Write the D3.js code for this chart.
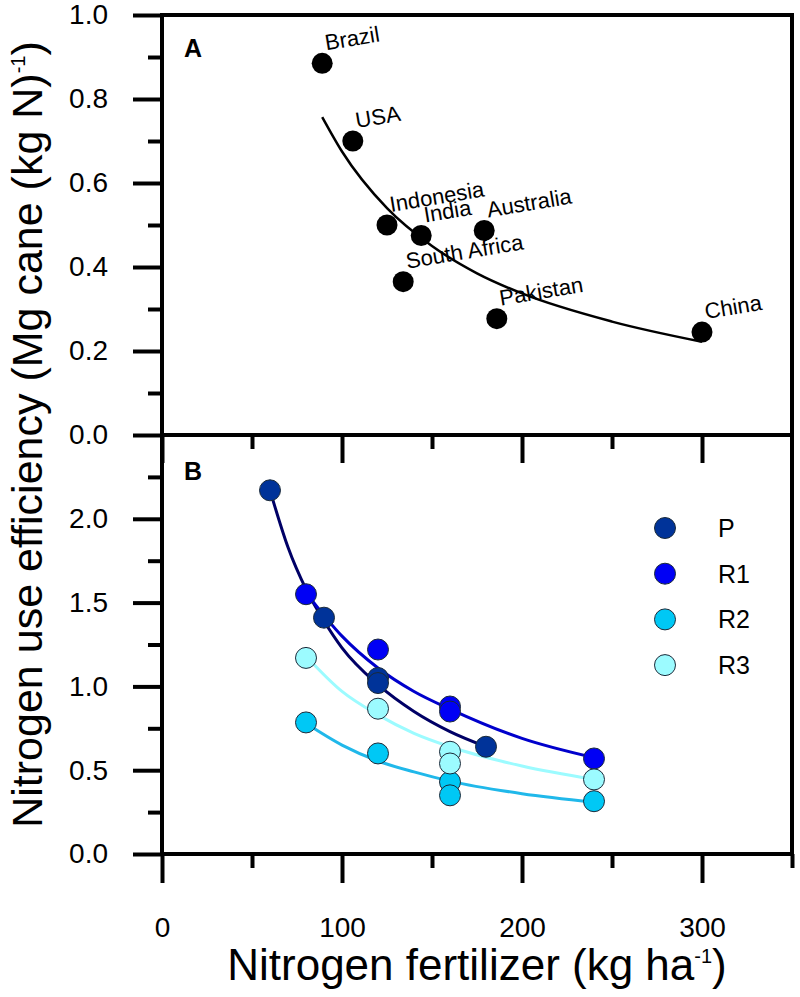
<!DOCTYPE html>
<html><head><meta charset="utf-8">
<script src="https://cdn.jsdelivr.net/npm/d3@7"></script>
<style>body{margin:0;background:#fff} text{font-family:Arial,"Liberation Sans",sans-serif;fill:#000}</style>
</head><body><svg id="c" width="800" height="997"></svg>
<script>
// ---- Panel A data ----
const countries = ["Brazil","USA","Indonesia","India","Australia","South Africa","Pakistan","China"];
const countryN = [89,106,125,144,179,134,186,300];
const countryNUE = [0.885,0.70,0.50,0.475,0.487,0.365,0.277,0.245];
const fitA_N = [89,100,125,150,175,200,250,300];
const fitA_NUE = [0.757,0.675,0.54,0.45,0.385,0.337,0.27,0.222];

// ---- Panel B data ----
const seriesNames = ["P","R1","R2","R3"];
const seriesFill = ["#003399","#0000f5","#00c8f5","#9cfbff"];
const seriesLine = ["#000066","#0000cc","#20b8ea","#9cfbff"];
const pointsN = [
  [60,90,120,120,180],
  [80,120,160,160,240],
  [80,120,160,160,240],
  [80,120,160,160,240]
];
const pointsNUE = [
  [2.17,1.41,1.05,1.02,0.64],
  [1.55,1.22,0.88,0.85,0.57],
  [0.785,0.60,0.43,0.35,0.315],
  [1.17,0.867,0.61,0.54,0.445]
];
const fitN = [
  [60,70,80,90,100,120,140,160,180],
  [80,100,120,140,160,200,240],
  [80,100,120,140,160,200,240],
  [80,100,120,140,160,200,240]
];
const fitNUE = [
  [2.17,1.83,1.58,1.39,1.23,1.01,0.85,0.73,0.64],
  [1.56,1.30,1.11,0.97,0.865,0.69,0.575],
  [0.78,0.65,0.555,0.49,0.435,0.36,0.31],
  [1.18,0.97,0.83,0.72,0.64,0.525,0.445]
];

// ---- Ticks ----
const xMajor = [0,100,200,300];
const xMinor = [50,150,250,350];
const yMajorA = [0,0.2,0.4,0.6,0.8,1.0];
const yMinorA = [0.1,0.3,0.5,0.7,0.9];
const yMajorB = [0,0.5,1.0,1.5,2.0];
const yMinorB = [0.25,0.75,1.25,1.75,2.25];

const svg = d3.select("#c");
const L = 162, R = 792, T = 15, M = 435, B = 854;
const x = d3.scaleLinear().domain([0,350]).range([L,R]);
const yA = d3.scaleLinear().domain([0,1]).range([M,T]);
const yB = d3.scaleLinear().domain([0,2.5]).range([B,M]);
const SW = 4;

function styleAxis(g, fontSize){
  g.select(".domain").remove();
  g.selectAll(".tick line").attr("stroke","#000").attr("stroke-width",SW);
  g.selectAll(".tick text").attr("font-size",fontSize).attr("font-family","Arial, 'Liberation Sans', sans-serif").attr("fill","#000");
}

// frames
svg.append("rect").attr("x",L).attr("y",T).attr("width",R-L).attr("height",M-T)
  .attr("fill","none").attr("stroke","#000").attr("stroke-width",SW);
svg.append("rect").attr("x",L).attr("y",M).attr("width",R-L).attr("height",B-M)
  .attr("fill","none").attr("stroke","#000").attr("stroke-width",SW);

// y axes A
svg.append("g").attr("transform",`translate(${L},0)`)
  .call(d3.axisLeft(yA).tickValues(yMajorA).tickSize(29).tickPadding(25).tickFormat(d3.format(".1f")))
  .call(g=>styleAxis(g,28));
svg.append("g").attr("transform",`translate(${L},0)`)
  .call(d3.axisLeft(yA).tickValues(yMinorA).tickSize(14).tickFormat(""))
  .call(g=>styleAxis(g,28));
// y axes B
svg.append("g").attr("transform",`translate(${L},0)`)
  .call(d3.axisLeft(yB).tickValues(yMajorB).tickSize(29).tickPadding(25).tickFormat(d3.format(".1f")))
  .call(g=>styleAxis(g,28));
svg.append("g").attr("transform",`translate(${L},0)`)
  .call(d3.axisLeft(yB).tickValues(yMinorB).tickSize(14).tickFormat(""))
  .call(g=>styleAxis(g,28));
// x ticks at panel boundary (panel A bottom)
svg.append("g").attr("transform",`translate(0,${M})`)
  .call(d3.axisBottom(x).tickValues(xMajor).tickSize(28).tickFormat(""))
  .call(g=>styleAxis(g,28));
svg.append("g").attr("transform",`translate(0,${M})`)
  .call(d3.axisBottom(x).tickValues(xMinor.filter(v=>v<350)).tickSize(14).tickFormat(""))
  .call(g=>styleAxis(g,28));
// x axis bottom
svg.append("g").attr("transform",`translate(0,${B})`)
  .call(d3.axisBottom(x).tickValues(xMajor).tickSize(29).tickPadding(34).tickFormat(d3.format("d")))
  .call(g=>styleAxis(g,28));
svg.append("g").attr("transform",`translate(0,${B})`)
  .call(d3.axisBottom(x).tickValues(xMinor).tickSize(14).tickFormat(""))
  .call(g=>styleAxis(g,28));

// ---- Panel A ----
const lineA = d3.line().x(d=>x(d[0])).y(d=>yA(d[1])).curve(d3.curveMonotoneX);
svg.append("path").datum(fitA_N.map((n,i)=>[n,fitA_NUE[i]]))
  .attr("d",lineA).attr("fill","none").attr("stroke","#000").attr("stroke-width",2.5);
const cdata = countries.map((c,i)=>({c, n:countryN[i], v:countryNUE[i]}));
svg.append("g").selectAll("circle").data(cdata).join("circle")
  .attr("cx",d=>x(d.n)).attr("cy",d=>yA(d.v)).attr("r",10.5).attr("fill","#000");
svg.append("g").selectAll("text").data(cdata).join("text")
  .attr("transform",d=>`translate(${x(d.n)+4},${yA(d.v)-13}) rotate(-9.5)`)
  .attr("font-size",22).text(d=>d.c);
svg.append("text").attr("x",184).attr("y",57).attr("font-size",25).attr("font-weight","bold").text("A");

// ---- Panel B ----
const lineB = d3.line().x(d=>x(d[0])).y(d=>yB(d[1])).curve(d3.curveMonotoneX);
seriesNames.forEach((s,k)=>{
  svg.append("path").datum(fitN[k].map((n,i)=>[n,fitNUE[k][i]]))
    .attr("d",lineB).attr("fill","none").attr("stroke",seriesLine[k]).attr("stroke-width",3);
});
seriesNames.forEach((s,k)=>{
  svg.append("g").selectAll("circle").data(pointsN[k].map((n,i)=>[n,pointsNUE[k][i]])).join("circle")
    .attr("cx",d=>x(d[0])).attr("cy",d=>yB(d[1])).attr("r",10.5)
    .attr("fill",seriesFill[k]).attr("stroke","#1a2a3a").attr("stroke-width",1);
});
svg.append("text").attr("x",184).attr("y",480).attr("font-size",25).attr("font-weight","bold").text("B");

// legend
const leg = svg.append("g");
seriesNames.forEach((s,k)=>{
  const cy = 528 + k*45.7;
  leg.append("circle").attr("cx",665).attr("cy",cy).attr("r",10.5)
    .attr("fill",seriesFill[k]).attr("stroke","#1a2a3a").attr("stroke-width",1);
  leg.append("text").attr("x",718).attr("y",cy+9).attr("font-size",25).text(s);
});

// ---- Axis titles ----
const xt = svg.append("text").attr("x",(L+R)/2).attr("y",980).attr("text-anchor","middle").attr("font-size",44);
xt.append("tspan").text("Nitrogen fertilizer (kg ha");
xt.append("tspan").attr("font-size",20).attr("dy",-17).text("-1");
xt.append("tspan").attr("dy",17).text(")");

const yt = svg.append("text").attr("transform",`translate(42,${(T+B)/2}) rotate(-90)`).attr("text-anchor","middle").attr("font-size",43);
yt.append("tspan").text("Nitrogen use efficiency (Mg cane (kg N)");
yt.append("tspan").attr("font-size",20).attr("dy",-17).text("-1");
yt.append("tspan").attr("dy",17).text(")");
</script></body></html>
